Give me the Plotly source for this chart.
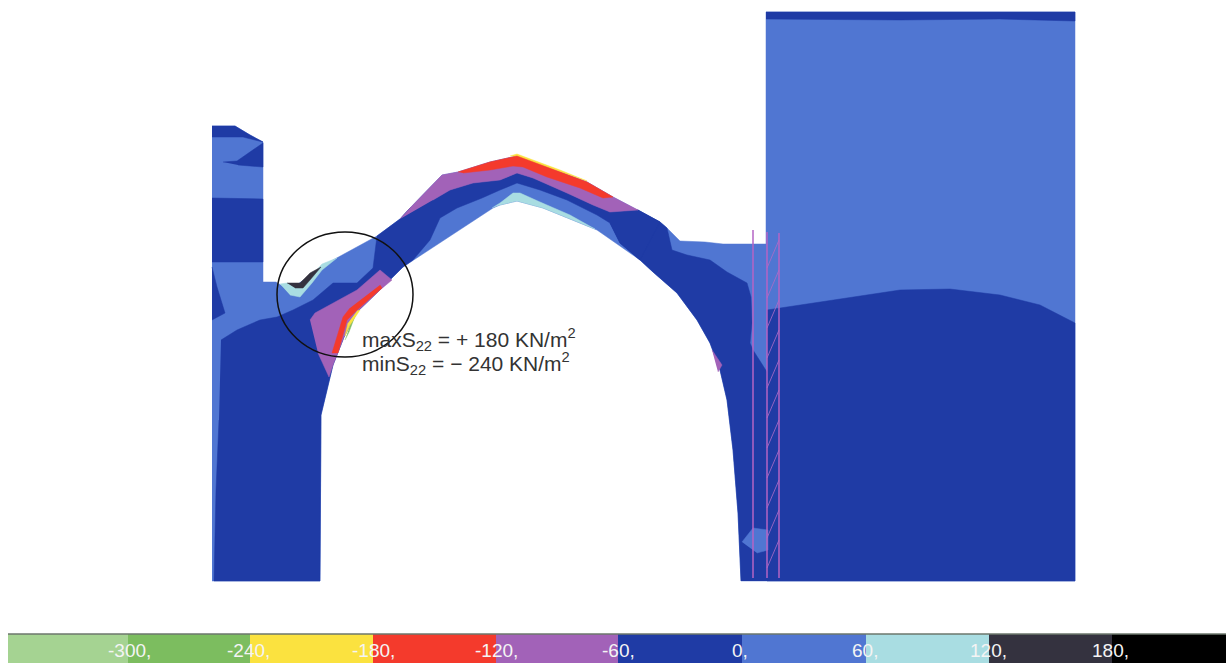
import plotly.graph_objects as go

DARK = "#1f3ba5"; MED = "#5076d2"; PALE = "#a9dde2"; GRAY = "#34323f"
PURPLE = "#a262b8"; RED = "#f43a2c"; YELLOW = "#fbe23f"; GREEN = "#7cbd5f"; LGREEN = "#a5d392"; BLACK = "#000000"

# Colour scale strip
scale_edges = [8, 128, 250, 373, 496, 618, 742, 866, 989, 1112, 1226]
scale_colors = [LGREEN, GREEN, YELLOW, RED, PURPLE, DARK, MED, PALE, GRAY, BLACK]
scale_labels = ["-300,", "-240,", "-180,", "-120,", "-60,", "0,", "60,", "120,", "180,"]
scale_label_x = [129, 248, 373, 496, 618, 740, 865, 988, 1110]

# Stress zones (outline of each contour band)
body = [(212,126),(235,126),(250,135),(263,142),(263,282),(276,282),(284,287),(292,288),(333,260),(377,236),(400,219),
        (410,208),(442,175),(458,172),(490,162),(517,156),(533,162),(560,172),(587,182),(613,197),(638,210),(660,222),
        (667,228),(680,241),(705,242),(723,244),(766,244),(766,12),(1075,12),(1075,581),(741,581),(738,513),(733,450),
        (727,400),(720,370),(710,343),(697,320),(677,293),(653,272),(640,260),(597,230),(573,220),(543,208),(517,201),
        (500,205),(493,208),(413,260),(403,267),(380,290),(357,312),(344,337),(333,365),(327,390),(321,415),(320,581),(212,581)]
top_strip = [(766,12),(1075,12),(1075,21),(1000,19),(900,20),(766,19)]
right_lower = [(767,310),(800,305),(850,298),(900,290),(950,289),(1000,295),(1040,305),(1075,323),(1075,581),(767,581)]
right_gap = [(741,581),(738,513),(733,450),(727,400),(720,370),(710,343),(697,320),(677,293),(653,272),(640,260),(620,243),
             (610,223),(638,210),(660,222),(667,228),(672,250),(687,255),(710,260),(727,272),(747,283),(751,297),(752,323),
             (750,343),(753,350),(767,372),(767,581)]
tower_cap = [(212,126),(235,126),(250,135),(263,142),(243,137),(212,137)]
tower_wedge = [(223,162),(237,161),(263,143),(263,167),(238,165)]
tower_band = [(212,198),(263,199),(263,262),(212,262)]
left_notch = [(212,267),(217,287),(225,313),(212,320)]
pier = [(221,340),(237,330),(260,320),(277,317),(293,310),(313,300),(333,283),(357,283),(373,268),(377,236),(400,219),
        (410,208),(433,200),(450,190),(473,183),(500,180),(517,173),(533,178),(567,193),(593,205),(610,212),(638,210),
        (660,222),(640,260),(620,243),(610,223),(597,215),(567,200),(540,190),(517,183),(500,190),(482,198),(457,208),
        (440,218),(430,240),(413,260),(403,267),(380,290),(357,312),(344,337),(333,365),(327,390),(321,415),(320,581),
        (214,581),(216,490),(219,420)]
crown_purple = [(400,219),(410,208),(442,175),(458,172),(490,162),(517,156),(533,162),(560,172),(587,182),(613,197),(638,210),
                (610,212),(593,205),(567,193),(533,178),(517,173),(500,180),(473,183),(450,190),(433,200)]
crown_red = [(458,172),(490,162),(517,156),(533,162),(560,172),(587,182),(613,197),(603,198),(580,188),(547,177),(523,167),
             (513,166),(490,170),(463,173)]
crown_yellow = [(510,156),(517,154),(533,160),(560,170),(587,181),(560,172),(533,163),(517,157)]
crown_pale = [(492,208),(500,203),(513,193),(520,193),(540,202),(570,215),(595,229),(573,220),(543,208),(517,201),(500,205)]
haunch_purple = [(310,320),(315,313),(357,290),(380,270),(392,280),(380,290),(357,312),(344,337),(333,365),(329,377),(318,353)]
haunch_red = [(380,285),(382,288),(357,310),(347,320),(338,353),(332,353),(343,317),(350,308)]
haunch_yellow = [(357,311),(360,310),(350,325),(345,336),(348,323)]
haunch_green = [(352,320),(355,316),(349,332),(345,340)]
pocket_pale = [(280,284),(287,283),(300,288),(322,264),(337,258),(322,270),(312,283),(300,297),(290,295)]
pocket_gray = [(287,283),(300,283),(310,273),(321,267),(310,280),(303,288),(295,288)]
spring_blob = [(742,542),(753,528),(768,530),(768,550),(757,553)]
jamb_purple = [(712,350),(722,365),(718,372)]

zones = [("body", body, MED), ("top_strip", top_strip, DARK), ("right_lower", right_lower, DARK), ("right_gap", right_gap, DARK),
         ("tower_cap", tower_cap, DARK), ("tower_wedge", tower_wedge, DARK), ("tower_band", tower_band, DARK),
         ("left_notch", left_notch, DARK), ("pier", pier, DARK), ("crown_purple", crown_purple, PURPLE),
         ("crown_yellow", crown_yellow, YELLOW), ("crown_red", crown_red, RED), ("crown_pale", crown_pale, PALE),
         ("haunch_purple", haunch_purple, PURPLE), ("haunch_green", haunch_green, GREEN), ("haunch_yellow", haunch_yellow, YELLOW),
         ("haunch_red", haunch_red, RED), ("pocket_pale", pocket_pale, PALE), ("pocket_gray", pocket_gray, GRAY),
         ("spring_blob", spring_blob, MED), ("jamb_purple", jamb_purple, PURPLE)]

# Wall lines and hatching
wall_lines = [[(753,230),(753,578)], [(767,232),(767,578)], [(779,233),(779,578)]]
hatch_top = [240, 270, 300, 330, 360, 390, 420, 450, 480, 510, 540]

fig = go.Figure()
for name, pts, col in zones:
    fig.add_trace(go.Scatter(x=[p[0] for p in pts], y=[p[1] for p in pts], mode="lines", fill="toself", fillcolor=col,
                             line=dict(color=col, width=0.5), name=name, hoverinfo="skip"))
for ln in wall_lines:
    fig.add_trace(go.Scatter(x=[p[0] for p in ln], y=[p[1] for p in ln], mode="lines",
                             line=dict(color="#b565c4", width=1.5), hoverinfo="skip"))
for y in hatch_top:
    fig.add_trace(go.Scatter(x=[767, 779], y=[y + 28, y], mode="lines",
                             line=dict(color="#b06cc8", width=1), opacity=0.8, hoverinfo="skip"))

for i, col in enumerate(scale_colors):
    fig.add_trace(go.Bar(orientation="h", y=[649], x=[scale_edges[i + 1] - scale_edges[i]], base=[scale_edges[i]], width=[29],
                         marker=dict(color=col, line=dict(width=0)), hoverinfo="skip"))

for txt, x in zip(scale_labels, scale_label_x):
    fig.add_annotation(x=x, y=650, text=txt, showarrow=False, xanchor="center", yanchor="middle",
                       font=dict(family="Liberation Sans", size=19, color="#f4f4f4"))

fig.add_annotation(x=360, y=339, text="maxS<sub>22</sub> = + 180 KN/m<sup>2</sup>", showarrow=False, xanchor="left", yanchor="middle",
                   font=dict(family="Liberation Sans", size=21, color="#333333"))
fig.add_annotation(x=360, y=363, text="minS<sub>22</sub> = \u2212 240 KN/m<sup>2</sup>", showarrow=False, xanchor="left", yanchor="middle",
                   font=dict(family="Liberation Sans", size=21, color="#333333"))

fig.add_shape(type="circle", x0=277, x1=413, y0=232, y1=357, line=dict(color="#111111", width=1.5))
fig.add_shape(type="line", x0=8, x1=1226, y0=634, y1=634, line=dict(color="#223322", width=1))

fig.update_layout(width=1226, height=663, margin=dict(l=0, r=0, t=0, b=0), showlegend=False, barmode="overlay",
                  paper_bgcolor="white", plot_bgcolor="white",
                  xaxis=dict(range=[0, 1226], visible=False, fixedrange=True),
                  yaxis=dict(range=[663, 0], visible=False, fixedrange=True))
fig.write_html("out.html", config={"displayModeBar": False},
               post_script="document.body.style.margin='0';document.body.style.overflow='hidden';")
